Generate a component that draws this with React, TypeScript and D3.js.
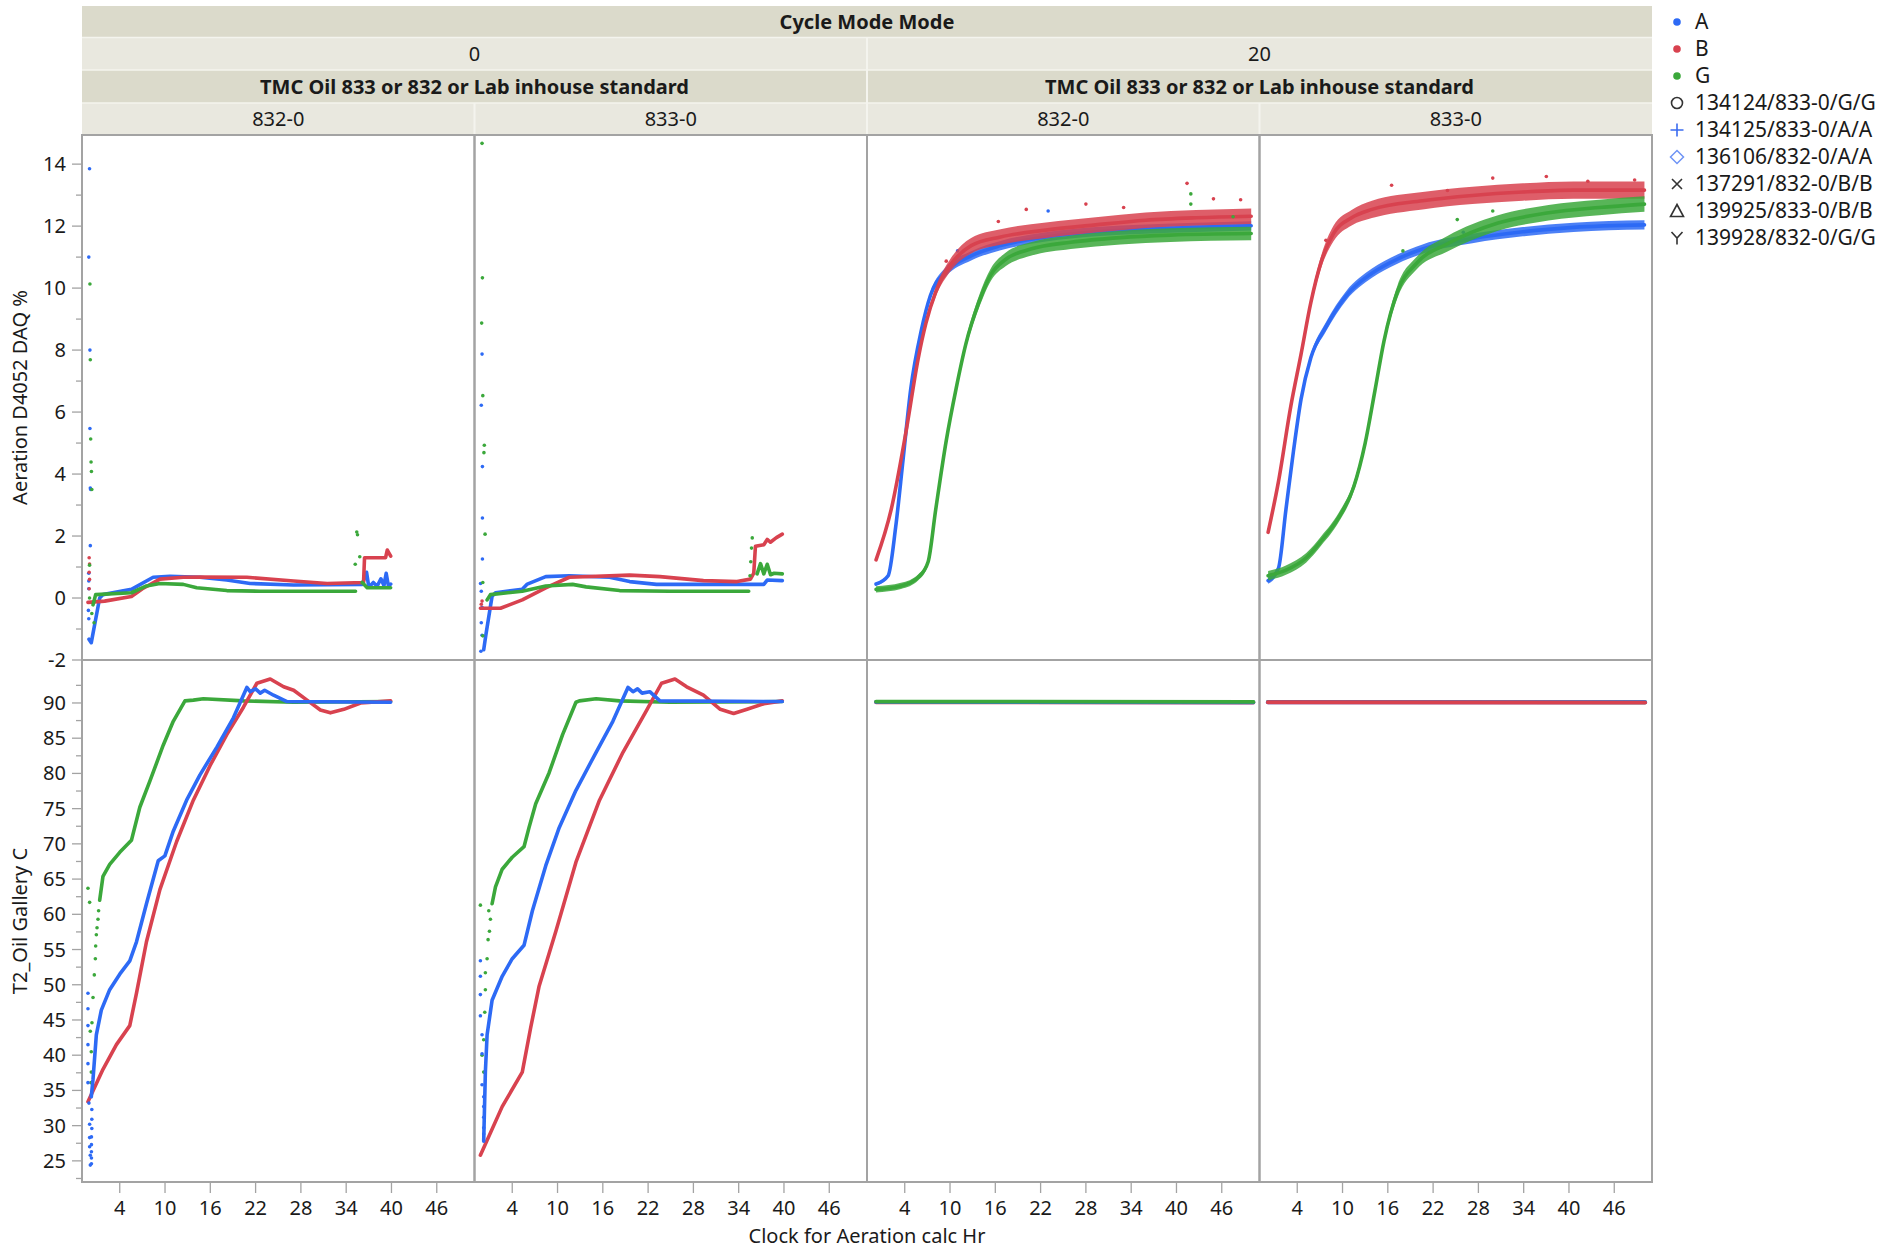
import React from "react";
import * as d3 from "d3";

type Pt = [number, number] | null;

// ---------- categories / ticks ----------
const cycleModes = ["0", "20"];
const oilGroupLabel = "TMC Oil 833 or 832 or Lab inhouse standard";
const oils = ["832-0", "833-0"];
const xTicks = [4, 10, 16, 22, 28, 34, 40, 46];
const aerTicks = [-2, 0, 2, 4, 6, 8, 10, 12, 14];
const aerMinorTicks = [-1, 1, 3, 5, 7, 9, 11, 13];
const tempTicks = [25, 30, 35, 40, 45, 50, 55, 60, 65, 70, 75, 80, 85, 90];
const tempMinorTicks = [22.5, 27.5, 32.5, 37.5, 42.5, 47.5, 52.5, 57.5, 62.5, 67.5, 72.5, 77.5, 82.5, 87.5, 92.5];
const groups = ["A", "B", "G"];
const runLabels = ["134124/833-0/G/G", "134125/833-0/A/A", "136106/832-0/A/A", "137291/832-0/B/B", "139925/833-0/B/B", "139928/832-0/G/G"];
const runMarkers = ["circle", "plus", "diamond", "cross", "triangle", "y"];

// ---------- Aeration, cycle 0, oil 832-0 ----------
const aer_c0_832_A: Pt[] = [[-0.08, -1.33], [0.23, -1.44], [1.34, 0.0], [1.78, 0.11], [5.55, 0.28], [8.43, 0.67], [10.65, 0.7], [14.63, 0.67], [18.18, 0.58], [21.28, 0.47], [27.04, 0.42], [36.12, 0.44], [36.7, 0.83], [37.0, 0.35], [37.6, 0.5], [38.1, 0.38], [38.6, 0.62], [39.0, 0.4], [39.3, 0.8], [39.6, 0.38], [39.9, 0.45]];
const aer_c0_832_B: Pt[] = [[-0.21, -0.14], [2.0, -0.1], [5.55, 0.05], [7.0, 0.3], [9.32, 0.61], [12.4, 0.67], [14.63, 0.68], [20.84, 0.67], [27.04, 0.55], [31.47, 0.47], [36.3, 0.5], [36.43, 1.3], [39.22, 1.3], [39.45, 1.55], [39.67, 1.45], [39.9, 1.35]];
const aer_c0_832_G: Pt[] = [[0.46, -0.22], [0.81, 0.11], [5.55, 0.17], [7.54, 0.39], [9.32, 0.47], [12.42, 0.44], [14.19, 0.33], [18.18, 0.24], [22.61, 0.22], [35.24, 0.22], null, [36.12, 0.5], [36.79, 0.33], [39.89, 0.33]];
const aerDots_c0_832_A: [number, number][] = [[0.0, 13.85], [-0.1, 11.0], [0.05, 8.0], [0.05, 5.47], [0.1, 3.55], [0.15, 3.5], [0.1, 1.69], [-0.1, 0.8], [-0.1, 0.55], [-0.1, 0.3], [-0.15, -0.4], [-0.1, -0.67]];
const aerDots_c0_832_B: [number, number][] = [[-0.05, 1.3], [0.0, 1.1], [-0.05, 0.83], [0.0, 0.6], [-0.05, 0.3]];
const aerDots_c0_832_G: [number, number][] = [[0.05, 10.13], [0.1, 7.69], [0.15, 5.13], [0.2, 4.39], [0.25, 4.08], [0.3, 3.5], [0.0, 1.06], [0.0, 0.0], [0.3, -0.5], [0.6, -0.8], [35.4, 2.13], [35.5, 2.04], [35.8, 1.33], [35.2, 1.09]];

// ---------- Aeration, cycle 0, oil 833-0 ----------
const aer_c0_833_A: Pt[] = [[0.22, -1.67], [0.5, -1.2], [1.33, 0.06], [1.78, 0.17], [5.33, 0.28], [6.0, 0.45], [8.44, 0.69], [11.56, 0.72], [16.89, 0.67], [19.56, 0.53], [23.11, 0.44], [37.33, 0.44], [37.78, 0.58], [39.78, 0.56]];
const aer_c0_833_B: Pt[] = [[-0.22, -0.33], [2.44, -0.33], [5.33, -0.06], [8.44, 0.33], [11.56, 0.67], [19.56, 0.74], [23.56, 0.69], [29.33, 0.56], [33.78, 0.53], [35.56, 0.61], [36.0, 0.8], [36.22, 1.67], [37.33, 1.72], [37.78, 1.89], [38.2, 1.8], [39.0, 1.95], [39.78, 2.06]];
const aer_c0_833_G: Pt[] = [[0.67, -0.06], [1.11, 0.11], [5.33, 0.22], [8.44, 0.39], [12.0, 0.44], [13.78, 0.36], [18.22, 0.24], [24.89, 0.22], [35.33, 0.22], null, [36.44, 0.78], [36.89, 1.11], [37.33, 0.78], [37.78, 1.09], [38.22, 0.75], [38.7, 0.8], [39.78, 0.78]];
const aerDots_c0_833_A: [number, number][] = [[0.0, 7.87], [-0.1, 6.22], [0.05, 4.24], [0.05, 2.58], [0.05, 1.26], [-0.2, 0.47], [-0.1, 0.22], [0.0, -0.3], [-0.1, -0.8], [0.0, -1.2], [-0.15, -1.72]];
const aerDots_c0_833_B: [number, number][] = [[0.0, -0.1], [-0.1, -0.2]];
const aerDots_c0_833_G: [number, number][] = [[0.0, 14.67], [0.05, 10.33], [-0.05, 8.87], [0.1, 6.53], [0.3, 4.93], [0.25, 4.69], [0.4, 2.06], [0.1, -1.22], [0.1, 0.5], [35.8, 1.94], [35.7, 1.61], [35.6, 1.17], [35.5, 0.72]];

// ---------- Aeration, cycle 20, oil 832-0 (values + noise half-band) ----------
const aer_c20_832_A: Pt[] = [[0.2, 0.45], [1.8, 0.72], [2.8, 2.29], [3.8, 4.52], [4.8, 6.75], [6.2, 8.64], [7.4, 9.76], [9.5, 10.54], [12.8, 11.04], [16.7, 11.37], [22.7, 11.65], [29.3, 11.82], [35.9, 11.9], [42.6, 11.96], [49.9, 12.01]];
const aerNoise_c20_832_A = [0.05, 0.05, 0.05, 0.05, 0.05, 0.1, 0.12, 0.15, 0.15, 0.15, 0.15, 0.15, 0.15, 0.15, 0.15];
const aer_c20_832_B: Pt[] = [[0.2, 1.23], [2.2, 2.85], [4.2, 5.41], [5.8, 7.75], [6.8, 8.86], [8.1, 9.87], [10.1, 10.76], [12.8, 11.37], [16.7, 11.65], [22.7, 11.87], [29.3, 12.04], [35.9, 12.19], [42.6, 12.27], [49.9, 12.32]];
const aerNoise_c20_832_B = [0, 0, 0, 0.05, 0.1, 0.15, 0.2, 0.25, 0.25, 0.25, 0.25, 0.25, 0.25, 0.25];
const aer_c20_832_G: Pt[] = [[0.2, 0.28], [3.5, 0.39], [5.8, 0.67], [7.1, 1.17], [8.1, 2.85], [9.5, 5.08], [10.8, 6.75], [12.1, 8.2], [13.8, 9.53], [15.4, 10.43], [17.4, 10.93], [20.7, 11.26], [26.0, 11.48], [32.6, 11.63], [39.2, 11.71], [49.9, 11.76]];
const aerNoise_c20_832_G = [0.1, 0.1, 0.1, 0.1, 0.1, 0.1, 0.1, 0.15, 0.2, 0.2, 0.22, 0.22, 0.22, 0.22, 0.22, 0.22];
const aerDots_c20_832_A: [number, number][] = [[23.0, 12.49], [11.0, 11.2]];
const aerDots_c20_832_B: [number, number][] = [[20.1, 12.54], [28.0, 12.71], [41.4, 13.38], [44.9, 12.88], [16.4, 12.15], [9.5, 10.87], [33.0, 12.6], [48.5, 12.85]];
const aerDots_c20_832_G: [number, number][] = [[41.9, 13.04], [41.9, 12.71], [47.5, 12.3]];

// ---------- Aeration, cycle 20, oil 833-0 ----------
const aer_c20_833_A: Pt[] = [[0.14, 0.56], [1.5, 0.95], [2.5, 2.85], [3.5, 4.74], [4.5, 6.41], [5.8, 7.75], [7.8, 8.75], [10.5, 9.76], [13.9, 10.48], [17.2, 10.93], [20.6, 11.26], [27.2, 11.6], [33.9, 11.82], [40.6, 11.96], [50.0, 12.04]];
const aerNoise_c20_833_A = [0.1, 0.1, 0.05, 0.05, 0.1, 0.12, 0.15, 0.15, 0.15, 0.15, 0.15, 0.15, 0.15, 0.15, 0.15];
const aer_c20_833_B: Pt[] = [[0.14, 2.12], [1.5, 3.74], [3.15, 6.19], [4.5, 7.86], [5.8, 9.53], [7.2, 10.87], [8.8, 11.76], [11.2, 12.27], [13.9, 12.54], [20.6, 12.82], [27.2, 12.99], [33.9, 13.1], [40.6, 13.16], [50.0, 13.16]];
const aerNoise_c20_833_B = [0, 0.05, 0.05, 0.1, 0.15, 0.2, 0.25, 0.25, 0.28, 0.28, 0.28, 0.28, 0.28, 0.28];
const aer_c20_833_G: Pt[] = [[0.14, 0.72], [2.5, 0.9], [5.2, 1.3], [7.2, 1.85], [9.5, 2.6], [11.5, 3.6], [13.0, 5.0], [14.3, 6.7], [15.5, 8.3], [17.3, 9.9], [19.8, 10.8], [23.9, 11.43], [30.6, 12.1], [37.3, 12.43], [44.0, 12.6], [50.0, 12.71]];
const aerNoise_c20_833_G = [0.15, 0.15, 0.15, 0.15, 0.15, 0.15, 0.15, 0.15, 0.15, 0.2, 0.2, 0.25, 0.25, 0.25, 0.25, 0.25];
const aerDots_c20_833_A: [number, number][] = [[26.0, 11.8]];
const aerDots_c20_833_B: [number, number][] = [[16.5, 13.32], [29.9, 13.55], [37.0, 13.6], [48.7, 13.49], [23.9, 13.15], [7.8, 11.54], [42.5, 13.45]];
const aerDots_c20_833_G: [number, number][] = [[25.2, 12.21], [29.9, 12.49], [18.0, 11.2]];

// ---------- Oil gallery temperature, cycle 0, oil 832-0 ----------
const temp_c0_832_A: Pt[] = [[0.23, 34.1], [0.46, 36.6], [0.9, 42.9], [1.56, 46.4], [2.67, 49.3], [4.0, 51.5], [5.33, 53.4], [6.22, 56.1], [7.54, 61.5], [9.1, 67.6], [9.98, 68.3], [11.09, 71.8], [12.86, 76.2], [14.63, 79.8], [16.85, 83.7], [19.06, 87.9], [20.84, 92.2], [21.28, 91.6], [22.0, 92.0], [22.61, 91.4], [23.2, 91.8], [24.38, 91.1], [26.15, 90.2], [39.89, 90.1]];
const temp_c0_832_B: Pt[] = [[-0.21, 33.4], [1.78, 38.0], [3.56, 41.5], [5.33, 44.2], [6.22, 48.8], [7.54, 56.1], [9.32, 63.5], [11.53, 70.3], [13.75, 76.2], [15.96, 81.1], [18.18, 85.5], [20.39, 89.4], [22.17, 92.8], [23.94, 93.4], [25.71, 92.3], [27.04, 91.8], [28.81, 90.4], [30.58, 89.0], [31.91, 88.6], [33.69, 89.1], [35.9, 90.0], [39.89, 90.3]];
const temp_c0_832_G: Pt[] = [[1.34, 62.0], [1.78, 65.4], [2.67, 67.1], [4.0, 68.8], [5.55, 70.5], [6.66, 75.2], [7.99, 78.9], [9.76, 84.0], [11.09, 87.4], [12.64, 90.3], [13.75, 90.4], [15.08, 90.6], [20.39, 90.3], [27.04, 90.1], [39.89, 90.2]];
const tempDots_c0_832_A: [number, number][] = [[-0.21, 48.8], [-0.21, 46.6], [-0.21, 44.2], [-0.21, 41.5], [-0.21, 38.8], [-0.21, 36.1], [-0.08, 33.2], [0.01, 30.2], [0.01, 28.3], [0.01, 27.0], [0.1, 25.8], [0.1, 24.4], [0.25, 24.6], [0.25, 25.4], [0.25, 26.3], [0.25, 27.3], [0.25, 28.4], [0.3, 29.6], [0.3, 30.9], [0.3, 32.3]];
const tempDots_c0_832_B: [number, number][] = [];
const tempDots_c0_832_G: [number, number][] = [[-0.21, 63.7], [0.01, 61.7], [1.2, 60.5], [1.12, 59.3], [0.99, 58.1], [0.9, 57.1], [0.81, 55.5], [0.77, 53.7], [0.63, 51.4], [0.46, 48.2], [0.32, 44.6], [0.1, 43.4], [0.23, 40.5], [0.23, 37.6], [0.19, 36.1]];

// ---------- Oil gallery temperature, cycle 0, oil 833-0 ----------
const temp_c0_833_A: Pt[] = [[0.22, 27.8], [0.44, 37.6], [0.67, 42.9], [1.33, 47.8], [2.67, 51.2], [4.0, 53.7], [5.56, 55.6], [6.67, 60.5], [8.44, 66.9], [10.22, 72.3], [12.44, 77.6], [15.11, 83.0], [17.33, 87.4], [19.33, 92.2], [20.0, 91.6], [20.6, 92.0], [21.2, 91.4], [22.22, 91.6], [23.56, 90.3], [39.78, 90.2]];
const temp_c0_833_B: Pt[] = [[-0.22, 25.8], [2.67, 32.7], [5.33, 37.6], [6.44, 43.9], [7.56, 49.8], [9.78, 57.6], [12.44, 67.4], [15.56, 76.2], [18.67, 83.0], [21.78, 88.9], [23.78, 92.8], [25.56, 93.4], [27.11, 92.3], [29.33, 91.1], [31.56, 89.1], [33.33, 88.5], [35.11, 89.1], [37.33, 89.9], [39.78, 90.3]];
const temp_c0_833_G: Pt[] = [[1.33, 61.5], [1.78, 63.9], [2.67, 66.4], [4.0, 68.1], [5.56, 69.6], [6.22, 72.3], [7.11, 75.7], [8.89, 80.1], [10.67, 85.5], [12.44, 90.1], [12.89, 90.3], [15.11, 90.6], [18.22, 90.3], [24.89, 90.1], [39.78, 90.2]];
const tempDots_c0_833_A: [number, number][] = [[-0.22, 53.4], [-0.22, 51.2], [-0.22, 48.6], [-0.22, 45.6], [0.0, 42.9], [0.0, 40.2], [0.0, 35.8], [0.22, 34.1], [0.22, 32.7], [0.22, 31.2], [0.22, 29.7], [0.22, 28.8]];
const tempDots_c0_833_B: [number, number][] = [];
const tempDots_c0_833_G: [number, number][] = [[-0.22, 61.3], [0.89, 60.5], [1.11, 59.3], [0.98, 57.6], [0.8, 56.4], [0.67, 53.7], [0.44, 51.7], [0.44, 49.3], [0.36, 46.1], [0.22, 42.2], [0.0, 40.0], [0.22, 37.6]];

// ---------- Oil gallery temperature, cycle 20 ----------
const temp_c20_832_A: Pt[] = [[0.2, 90.15], [50.2, 90.1]];
const temp_c20_832_B: Pt[] = [[0.2, 90.1], [50.2, 90.05]];
const temp_c20_832_G: Pt[] = [[0.2, 90.2], [50.2, 90.15]];
const temp_c20_833_A: Pt[] = [[0.1, 90.1], [50.1, 90.1]];
const temp_c20_833_B: Pt[] = [[0.1, 90.1], [50.1, 90.05]];
const temp_c20_833_G: Pt[] = [[0.1, 90.15], [50.1, 90.1]];

// ---------- assembly ----------
const colors: Record<string, string> = { A: "#2d6af5", B: "#d8424f", G: "#3ba83b" };
type SeriesSet = { line: Pt[]; noise?: number[]; dots: [number, number][] };
const panelDefs = [
  { cycle: "0", oil: "832-0",
    aer: { A: { line: aer_c0_832_A, dots: aerDots_c0_832_A }, B: { line: aer_c0_832_B, dots: aerDots_c0_832_B }, G: { line: aer_c0_832_G, dots: aerDots_c0_832_G } },
    temp: { A: { line: temp_c0_832_A, dots: tempDots_c0_832_A }, B: { line: temp_c0_832_B, dots: tempDots_c0_832_B }, G: { line: temp_c0_832_G, dots: tempDots_c0_832_G } },
    tempOrder: ["G", "B", "A"] },
  { cycle: "0", oil: "833-0",
    aer: { A: { line: aer_c0_833_A, dots: aerDots_c0_833_A }, B: { line: aer_c0_833_B, dots: aerDots_c0_833_B }, G: { line: aer_c0_833_G, dots: aerDots_c0_833_G } },
    temp: { A: { line: temp_c0_833_A, dots: tempDots_c0_833_A }, B: { line: temp_c0_833_B, dots: tempDots_c0_833_B }, G: { line: temp_c0_833_G, dots: tempDots_c0_833_G } },
    tempOrder: ["G", "B", "A"] },
  { cycle: "20", oil: "832-0",
    aer: { A: { line: aer_c20_832_A, noise: aerNoise_c20_832_A, dots: aerDots_c20_832_A }, B: { line: aer_c20_832_B, noise: aerNoise_c20_832_B, dots: aerDots_c20_832_B }, G: { line: aer_c20_832_G, noise: aerNoise_c20_832_G, dots: aerDots_c20_832_G } },
    temp: { A: { line: temp_c20_832_A, dots: [] }, B: { line: temp_c20_832_B, dots: [] }, G: { line: temp_c20_832_G, dots: [] } },
    tempOrder: ["B", "A", "G"] },
  { cycle: "20", oil: "833-0",
    aer: { A: { line: aer_c20_833_A, noise: aerNoise_c20_833_A, dots: aerDots_c20_833_A }, B: { line: aer_c20_833_B, noise: aerNoise_c20_833_B, dots: aerDots_c20_833_B }, G: { line: aer_c20_833_G, noise: aerNoise_c20_833_G, dots: aerDots_c20_833_G } },
    temp: { A: { line: temp_c20_833_A, dots: [] }, B: { line: temp_c20_833_B, dots: [] }, G: { line: temp_c20_833_G, dots: [] } },
    tempOrder: ["G", "A", "B"] },
];

// ---------- layout ----------
const W = 1895, H = 1249;
const PL = 82, PR = 1652;
const PW = (PR - PL) / 4;
const HEAD = [6, 37.5, 70, 103, 135];
const TOP0 = 135, MID = 660, BOT = 1182;
const FONT = "'Noto Sans', 'Open Sans', sans-serif";
const TXT = "#1a1a1a";
const GRID = "#a3a3a3";
const DARK = "#dbdacb";
const LIGHT = "#e9e8df";
const FS = 20;

const yAer = d3.scaleLinear().domain([-2, 14.94]).range([MID, TOP0]);
const yTemp = d3.scaleLinear().domain([22, 96.1]).range([BOT, MID]);

function Marker({ kind, x, y }: { kind: string; x: number; y: number }) {
  const s = 6.5;
  const dark = "#333";
  switch (kind) {
    case "circle": return <circle cx={x} cy={y} r={5.5} fill="none" stroke={dark} strokeWidth={1.6} />;
    case "plus": return <path d={`M${x - s},${y}H${x + s}M${x},${y - s}V${y + s}`} stroke="#3b6cf0" strokeWidth={1.6} />;
    case "diamond": return <path d={`M${x},${y - s}L${x + s},${y}L${x},${y + s}L${x - s},${y}Z`} fill="none" stroke="#6f94f5" strokeWidth={1.5} />;
    case "cross": return <path d={`M${x - 5},${y - 5}L${x + 5},${y + 5}M${x + 5},${y - 5}L${x - 5},${y + 5}`} stroke={dark} strokeWidth={1.6} />;
    case "triangle": return <path d={`M${x},${y - 6.5}L${x + 6.5},${y + 5.5}L${x - 6.5},${y + 5.5}Z`} fill="none" stroke={dark} strokeWidth={1.6} />;
    default: return <path d={`M${x - 5.5},${y - 6}L${x},${y}L${x + 5.5},${y - 6}M${x},${y}V${y + 6.5}`} fill="none" stroke={dark} strokeWidth={1.6} />;
  }
}

function Panel({ idx }: { idx: number }) {
  const def = panelDefs[idx];
  const L = PL + idx * PW;
  const x = d3.scaleLinear().domain([-1, 51]).range([L, L + PW]);
  const renderSet = (key: string, s: SeriesSet, y: d3.ScaleLinear<number, number>, lw: number) => {
    const line = d3.line<Pt>().defined((d) => d !== null).x((d) => x((d as [number, number])[0])).y((d) => y((d as [number, number])[1])).curve(d3.curveMonotoneX);
    const lineRaw = d3.line<Pt>().defined((d) => d !== null).x((d) => x((d as [number, number])[0])).y((d) => y((d as [number, number])[1]));
    let band: string | null = null;
    if (s.noise) {
      const nz = s.noise;
      const pts = (s.line as [number, number][]).map((p, i) => ({ p, n: nz[i] }));
      band = d3.area<{ p: [number, number]; n: number }>()
        .x((d) => x(d.p[0]))
        .y0((d) => y(d.p[1] - d.n))
        .y1((d) => y(d.p[1] + d.n))
        .curve(d3.curveMonotoneX)(pts);
    }
    return (
      <g key={key}>
        {band && <path d={band} fill={colors[key]} opacity={0.85} />}
        <path d={(s.noise ? line(s.line) : lineRaw(s.line)) || ""} fill="none" stroke={colors[key]} strokeWidth={lw} strokeLinejoin="round" strokeLinecap="round" />
        {s.dots.map((d, i) => (
          <circle key={i} cx={x(d[0])} cy={y(d[1])} r={1.8} fill={colors[key]} />
        ))}
      </g>
    );
  };
  const aer = def.aer as Record<string, SeriesSet>;
  const temp = def.temp as Record<string, SeriesSet>;
  return (
    <g>
      <clipPath id={`clipT${idx}`}><rect x={L} y={TOP0} width={PW} height={MID - TOP0} /></clipPath>
      <clipPath id={`clipB${idx}`}><rect x={L} y={MID} width={PW} height={BOT - MID} /></clipPath>
      <g clipPath={`url(#clipT${idx})`}>
        {groups.map((g) => renderSet(g, aer[g], yAer, 3.6))}
      </g>
      <g clipPath={`url(#clipB${idx})`}>
        {def.tempOrder.map((g) => renderSet(g, temp[g], yTemp, def.cycle === "0" ? 3.6 : 3.8))}
      </g>
      {xTicks.map((t) => (
        <g key={t}>
          <line x1={x(t)} x2={x(t)} y1={BOT} y2={BOT + 11} stroke={GRID} strokeWidth={1.3} />
          <text x={x(t)} y={BOT + 33} textAnchor="middle" fontSize={FS} fontFamily={FONT} fill={TXT}>{t}</text>
        </g>
      ))}
      <rect x={L} y={TOP0} width={PW} height={MID - TOP0} fill="none" stroke={GRID} strokeWidth={2} />
      <rect x={L} y={MID} width={PW} height={BOT - MID} fill="none" stroke={GRID} strokeWidth={2} />
    </g>
  );
}

export default function App() {
  const hdrText = (x: number, y0: number, y1: number, s: string, bold: boolean) => (
    <text x={x} y={(y0 + y1) / 2 + 7} textAnchor="middle" fontSize={20} fontWeight={bold ? 700 : 400} fontFamily={FONT} fill={TXT}>{s}</text>
  );
  return (
    <svg width={W} height={H} style={{ position: "absolute", left: 0, top: 0, background: "#fff" }}>
      <rect x={0} y={0} width={W} height={H} fill="#fff" />
      <rect x={PL} y={HEAD[0]} width={PR - PL} height={HEAD[1] - HEAD[0]} fill={DARK} />
      {hdrText((PL + PR) / 2, HEAD[0], HEAD[1], "Cycle Mode Mode", true)}
      {cycleModes.map((c, i) => {
        const x0 = PL + i * 2 * PW;
        return (
          <g key={c}>
            <rect x={x0} y={HEAD[1]} width={2 * PW} height={HEAD[2] - HEAD[1]} fill={LIGHT} />
            {hdrText(x0 + PW, HEAD[1], HEAD[2], c, false)}
            <rect x={x0} y={HEAD[2]} width={2 * PW} height={HEAD[3] - HEAD[2]} fill={DARK} />
            {hdrText(x0 + PW, HEAD[2], HEAD[3], oilGroupLabel, true)}
            {oils.map((o, j) => (
              <g key={o}>
                <rect x={x0 + j * PW} y={HEAD[3]} width={PW} height={HEAD[4] - HEAD[3]} fill={LIGHT} />
                {hdrText(x0 + j * PW + PW / 2, HEAD[3], HEAD[4], o, false)}
              </g>
            ))}
          </g>
        );
      })}
      {[HEAD[1], HEAD[2], HEAD[3]].map((y) => (
        <line key={y} x1={PL} x2={PR} y1={y} y2={y} stroke="#f4f4ee" strokeWidth={1.5} />
      ))}
      {[1, 2, 3].map((k) => (
        <line key={k} x1={PL + k * PW} x2={PL + k * PW} y1={k === 2 ? HEAD[1] : HEAD[3]} y2={HEAD[4]} stroke="#f4f4ee" strokeWidth={2} />
      ))}
      {panelDefs.map((_, i) => <Panel key={i} idx={i} />)}
      {aerTicks.map((t) => (
        <g key={t}>
          <line x1={PL - 10} x2={PL} y1={yAer(t)} y2={yAer(t)} stroke={GRID} strokeWidth={1.3} />
          <text x={PL - 16} y={yAer(t) + 7} textAnchor="end" fontSize={FS} fontFamily={FONT} fill={TXT}>{t}</text>
        </g>
      ))}
      {aerMinorTicks.map((t) => (
        <line key={t} x1={PL - 6} x2={PL} y1={yAer(t)} y2={yAer(t)} stroke={GRID} strokeWidth={1.3} />
      ))}
      {tempTicks.map((t) => (
        <g key={t}>
          <line x1={PL - 10} x2={PL} y1={yTemp(t)} y2={yTemp(t)} stroke={GRID} strokeWidth={1.3} />
          <text x={PL - 16} y={yTemp(t) + 7} textAnchor="end" fontSize={FS} fontFamily={FONT} fill={TXT}>{t}</text>
        </g>
      ))}
      {tempMinorTicks.map((t) => (
        <line key={t} x1={PL - 6} x2={PL} y1={yTemp(t)} y2={yTemp(t)} stroke={GRID} strokeWidth={1.3} />
      ))}
      <text transform={`translate(27,${(TOP0 + MID) / 2}) rotate(-90)`} textAnchor="middle" fontSize={FS} fontFamily={FONT} fill={TXT}>Aeration D4052 DAQ %</text>
      <text transform={`translate(27,${(MID + BOT) / 2}) rotate(-90)`} textAnchor="middle" fontSize={FS} fontFamily={FONT} fill={TXT}>T2_Oil Gallery C</text>
      <text x={(PL + PR) / 2} y={1243} textAnchor="middle" fontSize={FS} fontFamily={FONT} fill={TXT}>Clock for Aeration calc Hr</text>
      {groups.map((g, i) => (
        <g key={g}>
          <circle cx={1677} cy={22 + i * 27} r={3.8} fill={colors[g]} />
          <text x={1695} y={22 + i * 27 + 7} fontSize={21} fontFamily={FONT} fill={TXT}>{g}</text>
        </g>
      ))}
      {runLabels.map((r, i) => (
        <g key={r}>
          <Marker kind={runMarkers[i]} x={1677} y={103 + i * 27} />
          <text x={1695} y={103 + i * 27 + 7} fontSize={21} fontFamily={FONT} fill={TXT}>{r}</text>
        </g>
      ))}
    </svg>
  );
}
